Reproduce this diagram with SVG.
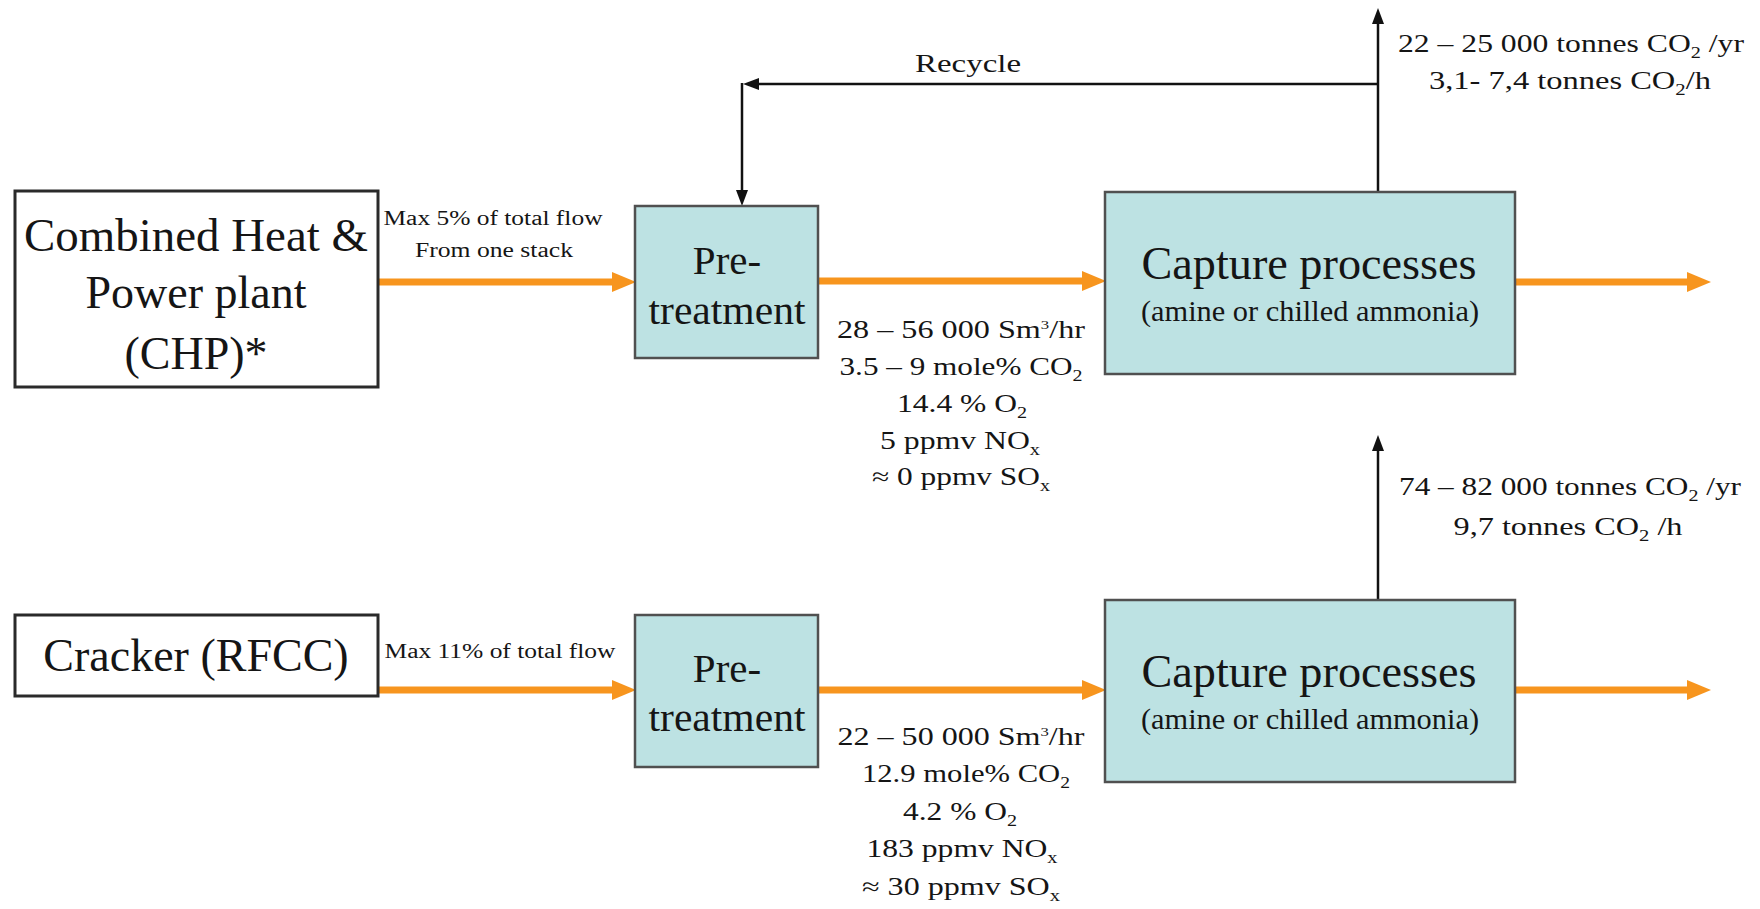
<svg xmlns="http://www.w3.org/2000/svg" width="1760" height="909" viewBox="0 0 1760 909">
<style>
.t{font-family:"Liberation Serif","Times New Roman",serif;fill:#151515;text-anchor:middle}
.big{font-size:46px}
.pre{font-size:41px}
.amine{font-size:29px}
.flow{font-size:25px}
.small{font-size:20px}
.rec{font-size:26px}
.sb{font-size:16px}
.ss{font-size:13px}
.white{fill:#ffffff;stroke:#2a2a2a;stroke-width:3}
.teal{fill:#bde2e3;stroke:#505050;stroke-width:2.5}
.orange{fill:none;stroke:#f7951e;stroke-width:7;marker-end:url(#oh)}
.black{fill:none;stroke:#111;stroke-width:2.5;marker-end:url(#bh)}
</style>
<defs>
<marker id="oh" viewBox="0 0 24 20" refX="0" refY="10" markerWidth="24" markerHeight="20" markerUnits="userSpaceOnUse" orient="auto"><path d="M0,0 L24,10 L0,20 z" fill="#f7951e"/></marker>
<marker id="bh" viewBox="0 0 16 12" refX="0" refY="6" markerWidth="16" markerHeight="12" markerUnits="userSpaceOnUse" orient="auto"><path d="M0,0 L16,6 L0,12 z" fill="#111"/></marker>
</defs>
<rect width="1760" height="909" fill="#ffffff"/>

<g id="connectors">
<path class="orange" d="M378,282 H612"/>
<path class="orange" d="M818,281 H1082"/>
<path class="orange" d="M1515,282 H1687"/>
<path class="orange" d="M378,690 H612"/>
<path class="orange" d="M818,690 H1082"/>
<path class="orange" d="M1515,690 H1687"/>
<path class="black" d="M1378,192 V24"/>
<path class="black" d="M1378,84 H759"/>
<path class="black" d="M742,83 V190"/>
<path class="black" d="M1378,600 V451"/>
<polygon points="1499,283 1513,283 1507,270" fill="#111"/>
<polygon points="1500,691 1514,691 1508,678" fill="#111"/>
</g>

<g id="chp">
<rect class="white" x="15" y="191" width="363" height="196"/>
<text class="t big" x="196" y="251" textLength="344" lengthAdjust="spacingAndGlyphs">Combined Heat &amp;</text>
<text class="t big" x="196" y="308">Power plant</text>
<text class="t big" x="196" y="369">(CHP)*</text>
</g>

<g id="cracker">
<rect class="white" x="15" y="615" width="363" height="81"/>
<text class="t big" x="196" y="671">Cracker (RFCC)</text>
</g>

<g id="label-chp-flow">
<text class="t small" x="493" y="225" textLength="219" lengthAdjust="spacingAndGlyphs">Max 5% of total flow</text>
<text class="t small" x="494" y="257" textLength="158" lengthAdjust="spacingAndGlyphs">From one stack</text>
</g>
<g id="label-rfcc-flow">
<text class="t small" x="500" y="658" textLength="231" lengthAdjust="spacingAndGlyphs">Max 11% of total flow</text>
</g>

<g id="pretreatment-1">
<rect class="teal" x="635" y="206" width="183" height="152"/>
<text class="t pre" x="727" y="274">Pre-</text>
<text class="t pre" x="727" y="324" textLength="157" lengthAdjust="spacingAndGlyphs">treatment</text>
</g>
<g id="pretreatment-2">
<rect class="teal" x="635" y="615" width="183" height="152"/>
<text class="t pre" x="727" y="682">Pre-</text>
<text class="t pre" x="727" y="731" textLength="157" lengthAdjust="spacingAndGlyphs">treatment</text>
</g>

<g id="capture-1">
<rect class="teal" x="1105" y="192" width="410" height="182"/>
<text class="t big" x="1309" y="279" textLength="335" lengthAdjust="spacingAndGlyphs">Capture processes</text>
<text class="t amine" x="1310" y="321" textLength="338" lengthAdjust="spacingAndGlyphs">(amine or chilled ammonia)</text>
</g>
<g id="capture-2">
<rect class="teal" x="1105" y="600" width="410" height="182"/>
<text class="t big" x="1309" y="687" textLength="335" lengthAdjust="spacingAndGlyphs">Capture processes</text>
<text class="t amine" x="1310" y="729" textLength="338" lengthAdjust="spacingAndGlyphs">(amine or chilled ammonia)</text>
</g>

<g id="label-recycle">
<text class="t rec" x="968" y="72" textLength="106" lengthAdjust="spacingAndGlyphs">Recycle</text>
</g>

<g id="label-co2-top">
<text class="t flow" x="1571" y="52" textLength="346" lengthAdjust="spacingAndGlyphs">22 – 25 000 tonnes CO<tspan class="sb" dy="6">2</tspan><tspan dy="-6"> /yr</tspan></text>
<text class="t flow" x="1570" y="89" textLength="282" lengthAdjust="spacingAndGlyphs">3,1- 7,4 tonnes CO<tspan class="sb" dy="6">2</tspan><tspan dy="-6">/h</tspan></text>
</g>
<g id="label-co2-bottom">
<text class="t flow" x="1570" y="495" textLength="342" lengthAdjust="spacingAndGlyphs">74 – 82 000 tonnes CO<tspan class="sb" dy="6">2</tspan><tspan dy="-6"> /yr</tspan></text>
<text class="t flow" x="1568" y="535" textLength="229" lengthAdjust="spacingAndGlyphs">9,7 tonnes CO<tspan class="sb" dy="6">2</tspan><tspan dy="-6"> /h</tspan></text>
</g>

<g id="label-flow-chp">
<text class="t flow" x="961" y="338" textLength="248" lengthAdjust="spacingAndGlyphs">28 – 56 000 Sm<tspan class="ss" dy="-9">3</tspan><tspan dy="9">/hr</tspan></text>
<text class="t flow" x="961" y="375" textLength="243" lengthAdjust="spacingAndGlyphs">3.5 – 9 mole% CO<tspan class="sb" dy="6">2</tspan></text>
<text class="t flow" x="962" y="412" textLength="130" lengthAdjust="spacingAndGlyphs">14.4 % O<tspan class="sb" dy="6">2</tspan></text>
<text class="t flow" x="960" y="449" textLength="160" lengthAdjust="spacingAndGlyphs">5 ppmv NO<tspan class="sb" dy="6">x</tspan></text>
<text class="t flow" x="961" y="485" textLength="178" lengthAdjust="spacingAndGlyphs">≈ 0 ppmv SO<tspan class="sb" dy="6">x</tspan></text>
</g>
<g id="label-flow-rfcc">
<text class="t flow" x="961" y="745" textLength="247" lengthAdjust="spacingAndGlyphs">22 – 50 000 Sm<tspan class="ss" dy="-9">3</tspan><tspan dy="9">/hr</tspan></text>
<text class="t flow" x="966" y="782" textLength="208" lengthAdjust="spacingAndGlyphs">12.9 mole% CO<tspan class="sb" dy="6">2</tspan></text>
<text class="t flow" x="960" y="820" textLength="114" lengthAdjust="spacingAndGlyphs">4.2 % O<tspan class="sb" dy="6">2</tspan></text>
<text class="t flow" x="962" y="857" textLength="191" lengthAdjust="spacingAndGlyphs">183 ppmv NO<tspan class="sb" dy="6">x</tspan></text>
<text class="t flow" x="961" y="895" textLength="198" lengthAdjust="spacingAndGlyphs">≈ 30 ppmv SO<tspan class="sb" dy="6">x</tspan></text>
</g>
</svg>
